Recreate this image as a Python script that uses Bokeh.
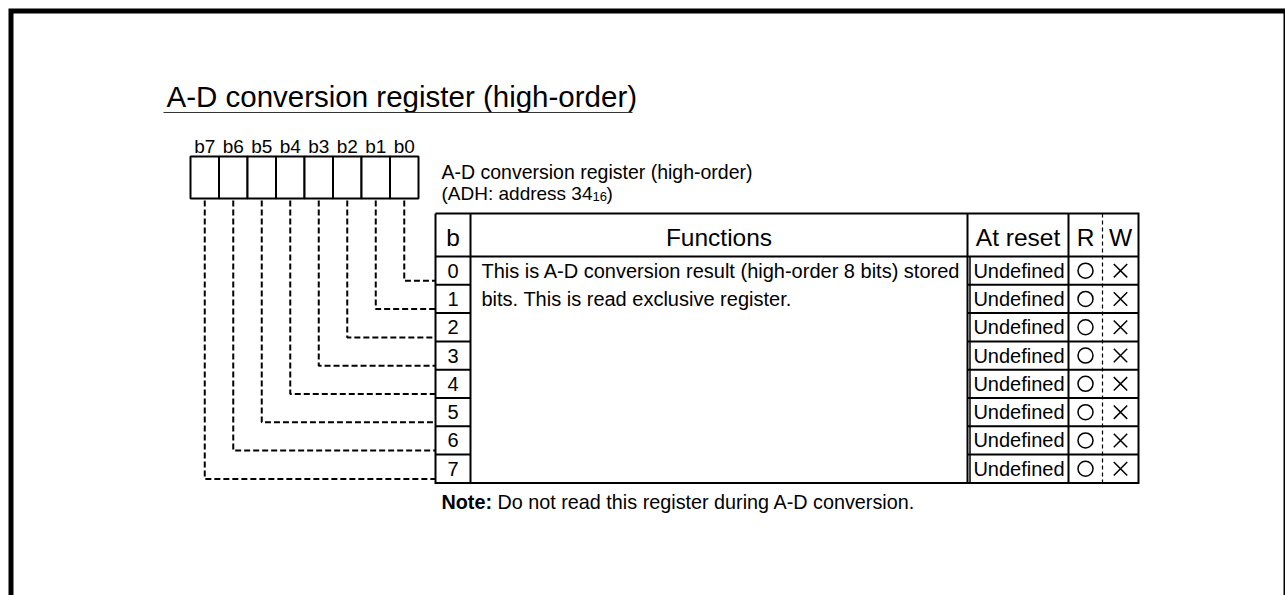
from bokeh.plotting import figure
from bokeh.models import Range1d, ColumnDataSource
from bokeh.core.properties import value
from bokeh.embed import file_html
from bokeh.resources import INLINE

# ---------------- data ----------------
title_text = "A-D conversion register (high-order)"
bit_labels = ["b7", "b6", "b5", "b4", "b3", "b2", "b1", "b0"]
register_name = "A-D conversion register (high-order)"
register_addr_main = "(ADH: address 34"
register_addr_sub = "16"
register_addr_end = ")"
header_labels = ["b", "Functions", "At reset", "R", "W"]
bit_numbers = ["0", "1", "2", "3", "4", "5", "6", "7"]
function_lines = ["This is A-D conversion result (high-order 8 bits) stored",
                  "bits. This is read exclusive register."]
at_reset = ["Undefined"] * 8
read_marks = ["O"] * 8
write_marks = ["X"] * 8
note_bold = "Note:"
note_text = "Do not read this register during A-D conversion."

# ---------------- layout constants (screen-pixel coordinates) ----------------
FONT = value("Liberation Sans")
W, H = 1285, 595
p = figure(width=W, height=H, output_backend="svg", toolbar_location=None,
           x_range=Range1d(0, W), y_range=Range1d(H, 0),
           min_border=0, outline_line_color=None)
p.axis.visible = False
p.grid.visible = False
p.background_fill_color = "white"

BLACK = "#000000"

# outer frame (top, left, right)
p.line([10.5, 10.5, 1285.5, 1285.5], [700, 10.5, 10.5, 700], line_width=5,
       line_color=BLACK, line_join="miter")

# title + underline
p.text([166], [96], text=[title_text], text_font=FONT, text_font_size="29.5px",
       text_baseline="middle", text_align="left", text_color=BLACK)
p.line([163, 632], [112, 112], line_width=1.2, line_color="#333333")

# register cells
RX0, RY0, RY1, CW = 190.0, 156.0, 198.0, 28.5
n = len(bit_labels)
cell_x = [RX0 + CW * (j + 0.5) for j in range(n)]
p.rect(cell_x, [(RY0 + RY1) / 2] * n, width=CW, height=RY1 - RY0,
       fill_color="white", line_color=BLACK, line_width=2)
p.text(cell_x, [146] * n, text=bit_labels, text_font=FONT, text_font_size="19px",
       text_baseline="middle", text_align="center", text_color=BLACK)

# register name
p.text([441], [171], text=[register_name], text_font=FONT, text_font_size="19.5px",
       text_baseline="middle", text_align="left", text_color=BLACK)
p.text([441], [193], text=[register_addr_main], text_font=FONT, text_font_size="19px",
       text_baseline="middle", text_align="left", text_color=BLACK)
p.text([592], [195.5], text=[register_addr_sub], text_font=FONT, text_font_size="13px",
       text_baseline="middle", text_align="left", text_color=BLACK)
p.text([606], [193], text=[register_addr_end], text_font=FONT, text_font_size="19px",
       text_baseline="middle", text_align="left", text_color=BLACK)

# table geometry
TX = [435.0, 470.0, 967.0, 1068.0, 1102.0, 1138.0]
TY0, TYH, RH = 213.0, 256.0, 28.3
rows = len(bit_numbers)
TY1 = TYH + RH * rows
row_c = [TYH + RH * (i + 0.5) for i in range(rows)]

# dashed connectors from register cells to table rows
xs, ys = [], []
for k in range(rows):
    x = cell_x[n - 1 - k]
    yk = TYH + RH * (k + 1) - 4
    xs.append([x, x, TX[0]])
    ys.append([RY1 + 2, yk, yk])
p.multi_line(xs, ys, line_color=BLACK, line_width=2, line_dash="6 3")

# table lines
p.line([TX[0], TX[5], TX[5], TX[0], TX[0]], [TY0, TY0, TY1, TY1, TY0],
       line_color=BLACK, line_width=2, line_join="miter")
p.multi_line([[TX[0], TX[5]], [TX[1], TX[1]], [TX[2], TX[2]], [TX[3], TX[3]]],
             [[TYH, TYH], [TY0, TY1], [TY0, TY1], [TY0, TY1]],
             line_color=BLACK, line_width=2)
p.line([TX[2] + 2.5, TX[2] + 2.5], [TYH, TY1], line_color=BLACK, line_width=1.5)
p.line([TX[4], TX[4]], [TY0, TY1], line_color=BLACK, line_width=1.2, line_dash="4 3")
sep_x, sep_y = [], []
for i in range(1, rows):
    y = TYH + RH * i
    sep_x += [[TX[0], TX[1]], [TX[2], TX[5]]]
    sep_y += [[y, y], [y, y]]
p.multi_line(sep_x, sep_y, line_color=BLACK, line_width=2)

# header texts
hx = [(TX[0] + TX[1]) / 2, (TX[1] + TX[2]) / 2, (TX[2] + TX[3]) / 2,
      (TX[3] + TX[4]) / 2, (TX[4] + TX[5]) / 2]
p.text(hx, [236.5] * 5, text=header_labels, text_font=FONT, text_font_size="24.5px",
       text_baseline="middle", text_align="center", text_color=BLACK)

# row texts
src = ColumnDataSource(dict(num=bit_numbers, reset=at_reset, y=row_c,
                            bx=[hx[0]] * rows, ax=[hx[2] + 1] * rows,
                            rx=[hx[3]] * rows, wx=[hx[4]] * rows,
                            rm=read_marks, wm=write_marks))
p.text("bx", "y", text="num", source=src, text_font=FONT, text_font_size="20px",
       text_baseline="middle", text_align="center", text_color=BLACK)
p.text("ax", "y", text="reset", source=src, text_font=FONT, text_font_size="20px",
       text_baseline="middle", text_align="center", text_color=BLACK)
p.scatter("rx", "y", source=src, marker="circle", size=15, fill_color=None,
          line_color=BLACK, line_width=1.5)
p.scatter("wx", "y", source=src, marker="x", size=19, line_color=BLACK, line_width=1.5)

# function description
p.text([481] * len(function_lines), row_c[:len(function_lines)], text=function_lines,
       text_font=FONT, text_font_size="20px", text_baseline="middle",
       text_align="left", text_color=BLACK)

# note
p.text([441], [501], text=[note_bold], text_font=FONT, text_font_size="19.8px",
       text_font_style="bold", text_baseline="middle", text_align="left", text_color=BLACK)
p.text([497], [501], text=[note_text], text_font=FONT, text_font_size="19.8px",
       text_baseline="middle", text_align="left", text_color=BLACK)

open("out.html", "w").write(file_html(p, INLINE))
